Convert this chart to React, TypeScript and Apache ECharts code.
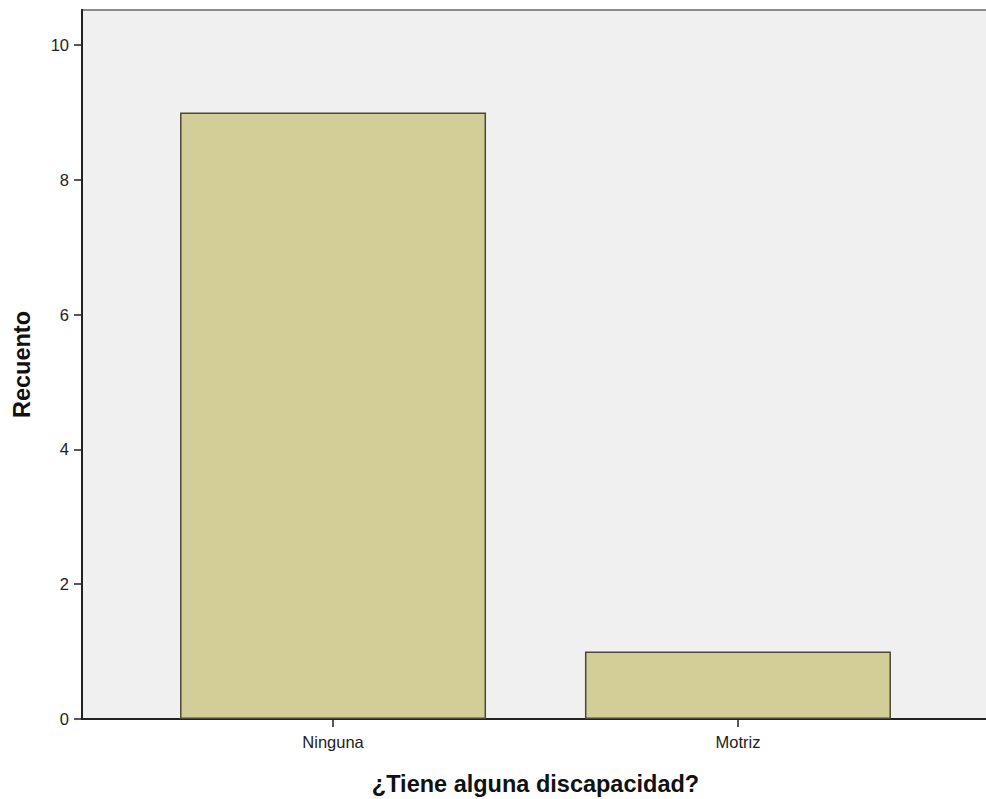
import React, { useEffect, useRef } from "react";
import * as echarts from "echarts";

const categories = ["Ninguna", "Motriz"];
const counts = [9, 1];
const yTicks = [0, 2, 4, 6, 8, 10];
const xTitle = "¿Tiene alguna discapacidad?";
const yTitle = "Recuento";

export default function App() {
  const ref = useRef<HTMLDivElement>(null);
  useEffect(() => {
    if (!ref.current) return;
    const chart = echarts.init(ref.current, undefined, { renderer: "svg" });
    const font = "Arial, 'Liberation Sans', sans-serif";
    chart.setOption({
      animation: false,
      backgroundColor: "#ffffff",
      grid: {
        left: 82,
        top: 10,
        right: -3,
        bottom: 80,
        outerBoundsMode: "none",
        containLabel: false,
        show: true,
        backgroundColor: "#F0F0F0",
        borderColor: "#8a8a8a",
        borderWidth: 2,
      },
      xAxis: {
        type: "value",
        min: -0.62,
        max: 1.62,
        name: xTitle,
        nameLocation: "middle",
        nameGap: 53,
        nameTextStyle: { fontFamily: font, fontWeight: "bold", fontSize: 23.5, color: "#111" },
        splitLine: { show: false },
        axisLine: { show: true, onZero: false, lineStyle: { color: "#222", width: 2 } },
        axisTick: {
          show: true,
          length: 8,
          customValues: categories.map((_, i) => i),
          lineStyle: { color: "#222", width: 1.5 },
        },
        axisLabel: {
          customValues: categories.map((_, i) => i),
          formatter: (v: number) => categories[Math.round(v)] ?? "",
          fontFamily: font,
          fontSize: 16.5,
          color: "#222",
          margin: 14,
        },
      },
      yAxis: {
        type: "value",
        min: 0,
        max: 10.52,
        name: yTitle,
        nameLocation: "middle",
        nameGap: 48,
        nameRotate: 90,
        nameTextStyle: { fontFamily: font, fontWeight: "bold", fontSize: 23.5, color: "#111" },
        splitLine: { show: false },
        axisLine: { show: true, onZero: false, lineStyle: { color: "#222", width: 2 } },
        axisTick: {
          show: true,
          length: 8,
          customValues: yTicks,
          lineStyle: { color: "#222", width: 1.5 },
        },
        axisLabel: {
          customValues: yTicks,
          fontFamily: font,
          fontSize: 16.5,
          color: "#222",
          margin: 13,
        },
      },
      series: [
        {
          type: "bar",
          data: counts.map((v, i) => [i, v]),
          barWidth: 306,
          itemStyle: {
            color: "#D3CE97",
            borderColor: "#4A4838",
            borderWidth: 1.5,
          },
        },
      ],
    });
    return () => chart.dispose();
  }, []);
  return (
    <div
      ref={ref}
      style={{ position: "fixed", left: 0, top: 0, width: 986, height: 799 }}
    />
  );
}
